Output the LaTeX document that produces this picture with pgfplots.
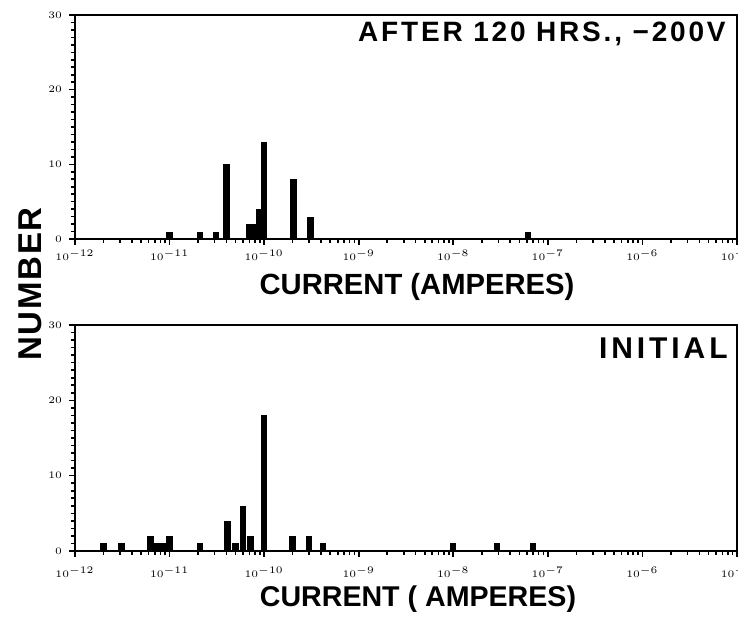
\documentclass[border=0pt]{standalone}
\usepackage{fontspec}
\setmainfont{Liberation Sans}
\usepackage{pgfplots}
\pgfplotsset{compat=1.18}
\pgfplotsset{
 panel/.style={
  scale only axis, width=331pt, xmin=1e-12, xmax=1e-5, ymin=0, ymax=30,
  ytick={0,10,20,30}, minor y tick num=9, xtick pos=left, ytick pos=left, tick align=outside,
  major tick length=3pt, minor tick length=2pt,
  axis line style={line width=1pt},
  every tick/.style={line width=0.8pt, black},
  tick label style={font=\fontsize{5}{6}\selectfont\bfseries},
  clip=false,
 }
}
\begin{document}
\begin{tikzpicture}
\useasboundingbox (0pt,0pt) rectangle (369pt,309.5pt);
\begin{semilogxaxis}[panel, height=112pt, at={(37.5pt,190pt)}, anchor=south west, xticklabel style={yshift=1pt}]
\addplot[ycomb, line width=3.2pt, black] coordinates {
(1e-11,1) (2.1e-11,1) (3.1e-11,1) (4e-11,10) (6.9e-11,2) (7.8e-11,2) (8.8e-11,4) (1e-10,13) (2.05e-10,8) (3.1e-10,3) (6.2e-8,1)
};
\end{semilogxaxis}
\begin{semilogxaxis}[panel, height=113pt, at={(37.5pt,34pt)}, anchor=south west, xticklabel style={yshift=-1.5pt}]
\addplot[ycomb, line width=3.2pt, black] coordinates {
(2e-12,1) (3.1e-12,1) (6.3e-12,2) (7.3e-12,1) (8.6e-12,1) (1e-11,2) (2.1e-11,1) (4.1e-11,4) (5e-11,1) (6e-11,6) (7.2e-11,2) (1e-10,18) (2e-10,2) (3e-10,2) (4.2e-10,1) (1e-8,1) (2.9e-8,1) (7e-8,1)
};
\end{semilogxaxis}
\node[font=\fontsize{14.6}{16}\selectfont\bfseries] at (208.5pt,166pt) {CURRENT (AMPERES)};
\node[font=\fontsize{14.3}{16}\selectfont\bfseries] at (209pt,10pt) {CURRENT ( AMPERES)};
\node[rotate=90, font=\fontsize{16.5}{18}\selectfont\bfseries\addfontfeature{LetterSpace=5}] at (15pt,167.5pt) {NUMBER};
\node[anchor=east, inner sep=0pt, font=\fontsize{14}{16}\selectfont\bfseries\addfontfeature{LetterSpace=10}] at (363pt,292.5pt) {AFTER 120 HRS., −200V};
\node[anchor=east, inner sep=0pt, font=\fontsize{15}{16}\selectfont\bfseries\addfontfeature{LetterSpace=13}] at (364pt,135.5pt) {INITIAL};
\end{tikzpicture}
\end{document}
